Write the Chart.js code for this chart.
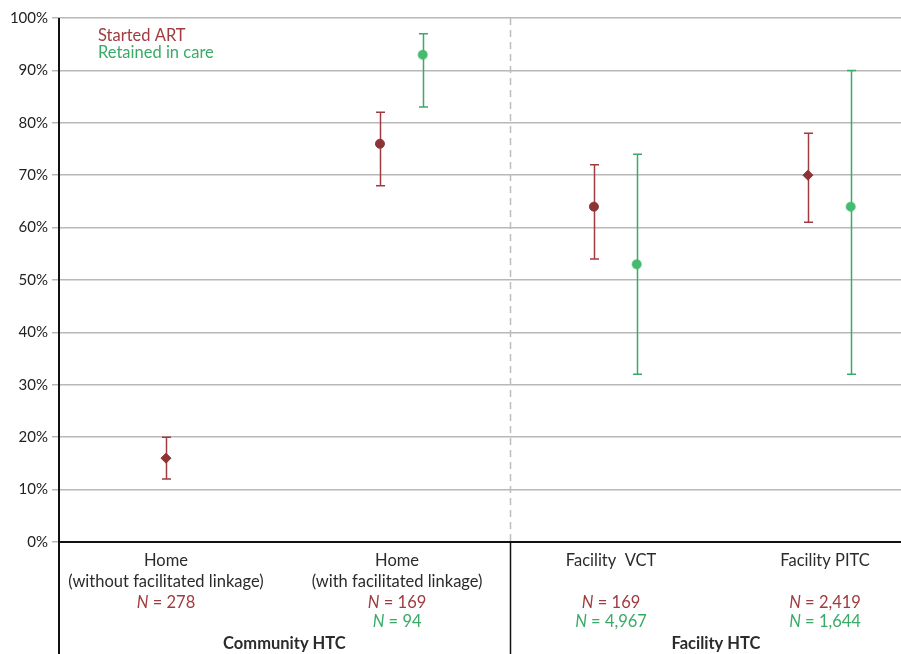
<!DOCTYPE html>
<html>
<head>
<meta charset="utf-8">
<script src="https://cdn.jsdelivr.net/npm/chart.js@4"></script>
<style>
  html, body { margin: 0; padding: 0; background: #fff; }
  #wrap { width: 901px; height: 654px; }
</style>
</head>
<body>
<div id="wrap"><canvas id="c" width="901" height="654"></canvas></div>
<script>
// Linkage outcomes by HIV testing approach (% with 95% CI)
const categories = [
  ['Home', '(without facilitated linkage)'],
  ['Home', '(with facilitated linkage)'],
  ['Facility  VCT'],
  ['Facility PITC']
];
const groups = ['Community HTC', 'Facility HTC'];

const startedART  = [16, 76, 64, 70];
const startedLow  = [12, 68, 54, 61];
const startedHigh = [20, 82, 72, 78];
const startedN    = ['278', '169', '169', '2,419'];

const retained     = [null, 93, 53, 64];
const retainedLow  = [null, 83, 32, 32];
const retainedHigh = [null, 97, 74, 90];
const retainedN    = [null, '94', '4,967', '1,644'];

const RED = '#a03c40';
const RED_PT = '#8e3236';
const GREEN = '#3aaa68';
const GREEN_PT = '#44bb6e';
const TEXT = '#2b2b2b';
const FONT = 'Lato, "Open Sans", sans-serif';
const LABEL_SIZE = 16.5;

// x layout: category i occupies [i, i+1]; the series sit side by side in it
const RED_OFF = 0.5, GREEN_OFF = 0.7, DIVIDER = 2.107;

const redPoints = startedART.map((v, i) => ({ x: i + RED_OFF, y: v }));
const greenPoints = retained.map((v, i) => ({ x: i + GREEN_OFF, y: v }));

function drawErrorBars(ctx, xs, ys, lows, highs, offset) {
  lows.forEach((lo, i) => {
    if (lo == null) return;
    const x = Math.round(xs.getPixelForValue(i + offset)) + 0.5;
    const y1 = ys.getPixelForValue(lo);
    const y2 = ys.getPixelForValue(highs[i]);
    ctx.beginPath();
    ctx.moveTo(x, y1); ctx.lineTo(x, y2);
    ctx.moveTo(x - 4.5, y1); ctx.lineTo(x + 4.5, y1);
    ctx.moveTo(x - 4.5, y2); ctx.lineTo(x + 4.5, y2);
    ctx.stroke();
  });
}

const errorBars = {
  id: 'errorBars',
  beforeDatasetsDraw(chart) {
    const { ctx, scales: { x, y } } = chart;
    ctx.save();
    ctx.lineWidth = 1.5;
    ctx.strokeStyle = RED;
    drawErrorBars(ctx, x, y, startedLow, startedHigh, RED_OFF);
    ctx.strokeStyle = GREEN;
    drawErrorBars(ctx, x, y, retainedLow, retainedHigh, GREEN_OFF);
    ctx.restore();
  }
};

function drawN(ctx, cx, cy, value, color) {
  ctx.fillStyle = color;
  ctx.font = 'italic ' + LABEL_SIZE + 'px ' + FONT;
  const wN = ctx.measureText('N').width;
  ctx.font = LABEL_SIZE + 'px ' + FONT;
  const rest = ' = ' + value;
  const wR = ctx.measureText(rest).width;
  const x0 = cx - (wN + wR) / 2;
  ctx.textAlign = 'left';
  ctx.font = 'italic ' + LABEL_SIZE + 'px ' + FONT;
  ctx.fillText('N', x0, cy);
  ctx.font = LABEL_SIZE + 'px ' + FONT;
  ctx.fillText(rest, x0 + wN, cy);
}

const frame = {
  id: 'frame',
  beforeDatasetsDraw(chart) {
    const { ctx, chartArea: a, scales: { x } } = chart;
    const dx = Math.round(x.getPixelForValue(DIVIDER)) + 0.5;
    ctx.save();
    ctx.strokeStyle = '#bdbdbd';
    ctx.lineWidth = 1.5;
    ctx.setLineDash([7, 5]);
    ctx.beginPath();
    ctx.moveTo(dx, a.top); ctx.lineTo(dx, a.bottom);
    ctx.stroke();
    ctx.restore();
  },
  afterDraw(chart) {
    const { ctx, chartArea: a, scales: { x } } = chart;
    const H = chart.height;
    const dx = Math.round(x.getPixelForValue(DIVIDER)) + 0.5;
    ctx.save();
    ctx.strokeStyle = '#111';
    ctx.lineWidth = 2;
    ctx.beginPath();
    ctx.moveTo(a.left, a.top); ctx.lineTo(a.left, H);
    ctx.moveTo(a.left, a.bottom); ctx.lineTo(chart.width, a.bottom);
    ctx.stroke();
    ctx.lineWidth = 1.5;
    ctx.beginPath();
    ctx.moveTo(dx, a.bottom); ctx.lineTo(dx, H);
    ctx.stroke();

    // legend
    ctx.textBaseline = 'middle';
    ctx.textAlign = 'left';
    ctx.font = LABEL_SIZE + 'px ' + FONT;
    ctx.fillStyle = RED;
    ctx.fillText('Started ART', 98, 36);
    ctx.fillStyle = GREEN;
    ctx.fillText('Retained in care', 98, 53);

    // category labels
    const rows = [561, 582, 603, 622];
    categories.forEach((lines, i) => {
      const paired = retained[i] != null;
      const cx = x.getPixelForValue(i + RED_OFF + (paired ? 0.08 : 0));
      ctx.textAlign = 'center';
      ctx.font = LABEL_SIZE + 'px ' + FONT;
      ctx.fillStyle = TEXT;
      lines.forEach((t, k) => ctx.fillText(t, cx, rows[k]));
      drawN(ctx, cx, rows[2], startedN[i], RED);
      if (retainedN[i]) drawN(ctx, cx, rows[3], retainedN[i], GREEN);
    });

    // group labels
    ctx.textAlign = 'center';
    ctx.font = 'bold ' + LABEL_SIZE + 'px ' + FONT;
    ctx.fillStyle = TEXT;
    ctx.fillText(groups[0], x.getPixelForValue(DIVIDER / 2), 644);
    ctx.fillText(groups[1], x.getPixelForValue(3.07), 644);
    ctx.restore();
  }
};

new Chart(document.getElementById('c'), {
  type: 'scatter',
  data: {
    datasets: [
      {
        label: 'Started ART',
        data: redPoints,
        backgroundColor: RED_PT,
        borderColor: RED_PT,
        pointStyle: ['rectRot', 'circle', 'circle', 'rectRot'],
        pointRadius: [5, 4.5, 4.5, 5],
        borderWidth: 1
      },
      {
        label: 'Retained in care',
        data: greenPoints,
        backgroundColor: GREEN_PT,
        borderColor: 'rgba(68,187,110,0.55)',
        pointStyle: 'circle',
        pointRadius: 4.5,
        borderWidth: 1.5
      }
    ]
  },
  options: {
    responsive: false,
    animation: false,
    events: [],
    layout: { autoPadding: false, padding: { top: 18, right: 0, bottom: 0, left: 0 } },
    plugins: { legend: { display: false }, tooltip: { enabled: false } },
    scales: {
      x: {
        type: 'linear',
        min: 0,
        max: 3.935,
        ticks: { display: false },
        grid: { display: false, drawTicks: false },
        border: { display: false },
        afterFit(s) { s.height = 112; }
      },
      y: {
        min: 0,
        max: 100,
        ticks: {
          stepSize: 10,
          padding: 4,
          color: '#222',
          font: { family: FONT, size: 15 },
          callback: v => v + '%'
        },
        grid: { color: '#b8b8b8', lineWidth: 1.5, tickLength: 7, tickColor: '#b8b8b8' },
        border: { display: false },
        afterFit(s) { s.width = 59; }
      }
    }
  },
  plugins: [errorBars, frame]
});
</script>
</body>
</html>
